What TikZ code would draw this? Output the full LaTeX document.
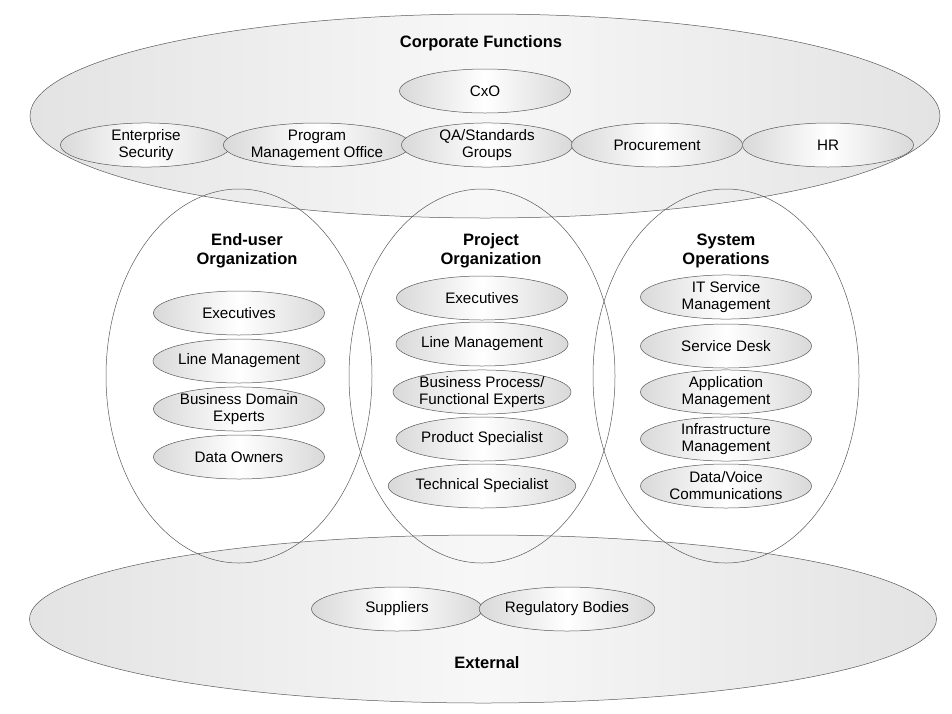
\documentclass[tikz,border=0pt]{standalone}
\usepackage{fontspec}
\setmainfont{Liberation Sans}
\usetikzlibrary{shapes.geometric}
\tikzset{
	group/.style={ellipse,draw=black!65,line width=0.5pt,left color=black!11,right color=black!11,middle color=black!3,inner sep=0pt},
	org/.style={ellipse,draw=black!65,line width=0.5pt,inner sep=0pt},
	item/.style={ellipse,draw=black!65,line width=0.5pt,left color=black!15,right color=black!15,middle color=white,minimum width=171pt,minimum height=44pt,inner sep=0pt,align=center,font=\fontsize{15.2}{17}\selectfont},
	title/.style={align=center,font=\fontsize{16.5}{19}\selectfont\bfseries}
}
\begin{document}
\begin{tikzpicture}[x=1pt,y=-1pt]
		\useasboundingbox (0,0) rectangle (952,713);
		\node[group,minimum width=910pt,minimum height=204pt] (corp) at (485,116) {};
		\node[group,minimum width=907pt,minimum height=168pt] (ext) at (483,619) {};
		\node[org,minimum width=266pt,minimum height=374pt] (enduser) at (239,376) {};
		\node[org,minimum width=266pt,minimum height=374pt] (project) at (482,376) {};
		\node[org,minimum width=266pt,minimum height=374pt] (sysops) at (726,376) {};
		\foreach \Point/\Name/\Text in {(485,91)/cxo/{CxO},(146,145)/secur/{Enterprise\\Security},(317,145)/pmo/{Program\\Management Office},(487,145)/qa/{QA/Standards\\Groups},(657,145)/procure/{Procurement},(828,145)/hr/{HR}}
		\node[item] (\Name) at \Point {\Text};
		\foreach \Point/\Name/\Text in {(239,313)/euexec/{Executives},(239,361)/euline/{Line Management},(239,409)/eudomain/{Business Domain\\Experts},(239,457)/eudata/{Data Owners}}
		\node[item] (\Name) at \Point {\Text};
		\foreach \Point/\Name/\Text in {(482,298)/prexec/{Executives},(482,344)/prline/{Line Management},(482,392)/prprocess/{Business Process/\\Functional Experts},(482,439)/prproduct/{Product Specialist},(482,486)/prtech/{Technical Specialist}}
		\node[item] (\Name) at \Point {\Text};
		\foreach \Point/\Name/\Text in {(726,297)/itsm/{IT Service\\Management},(726,346)/desk/{Service Desk},(726,392)/appl/{Application\\Management},(726,439)/infra/{Infrastructure\\Management},(726,486)/comms/{Data/Voice\\Communications}}
		\node[item] (\Name) at \Point {\Text};
		\node[item] (suppl) at (397,609) {Suppliers};
		\node[item] (regul) at (567,609) {Regulatory Bodies};
		\node[title] (corpT) at (481,43) {Corporate Functions};
		\node[title] (euT) at (247,251) {End-user\\Organization};
		\node[title] (prT) at (491,251) {Project\\Organization};
		\node[title] (sysT) at (726,251) {System\\Operations};
		\node[title] (extT) at (487,663) {External};
	\end{tikzpicture}
\end{document}
